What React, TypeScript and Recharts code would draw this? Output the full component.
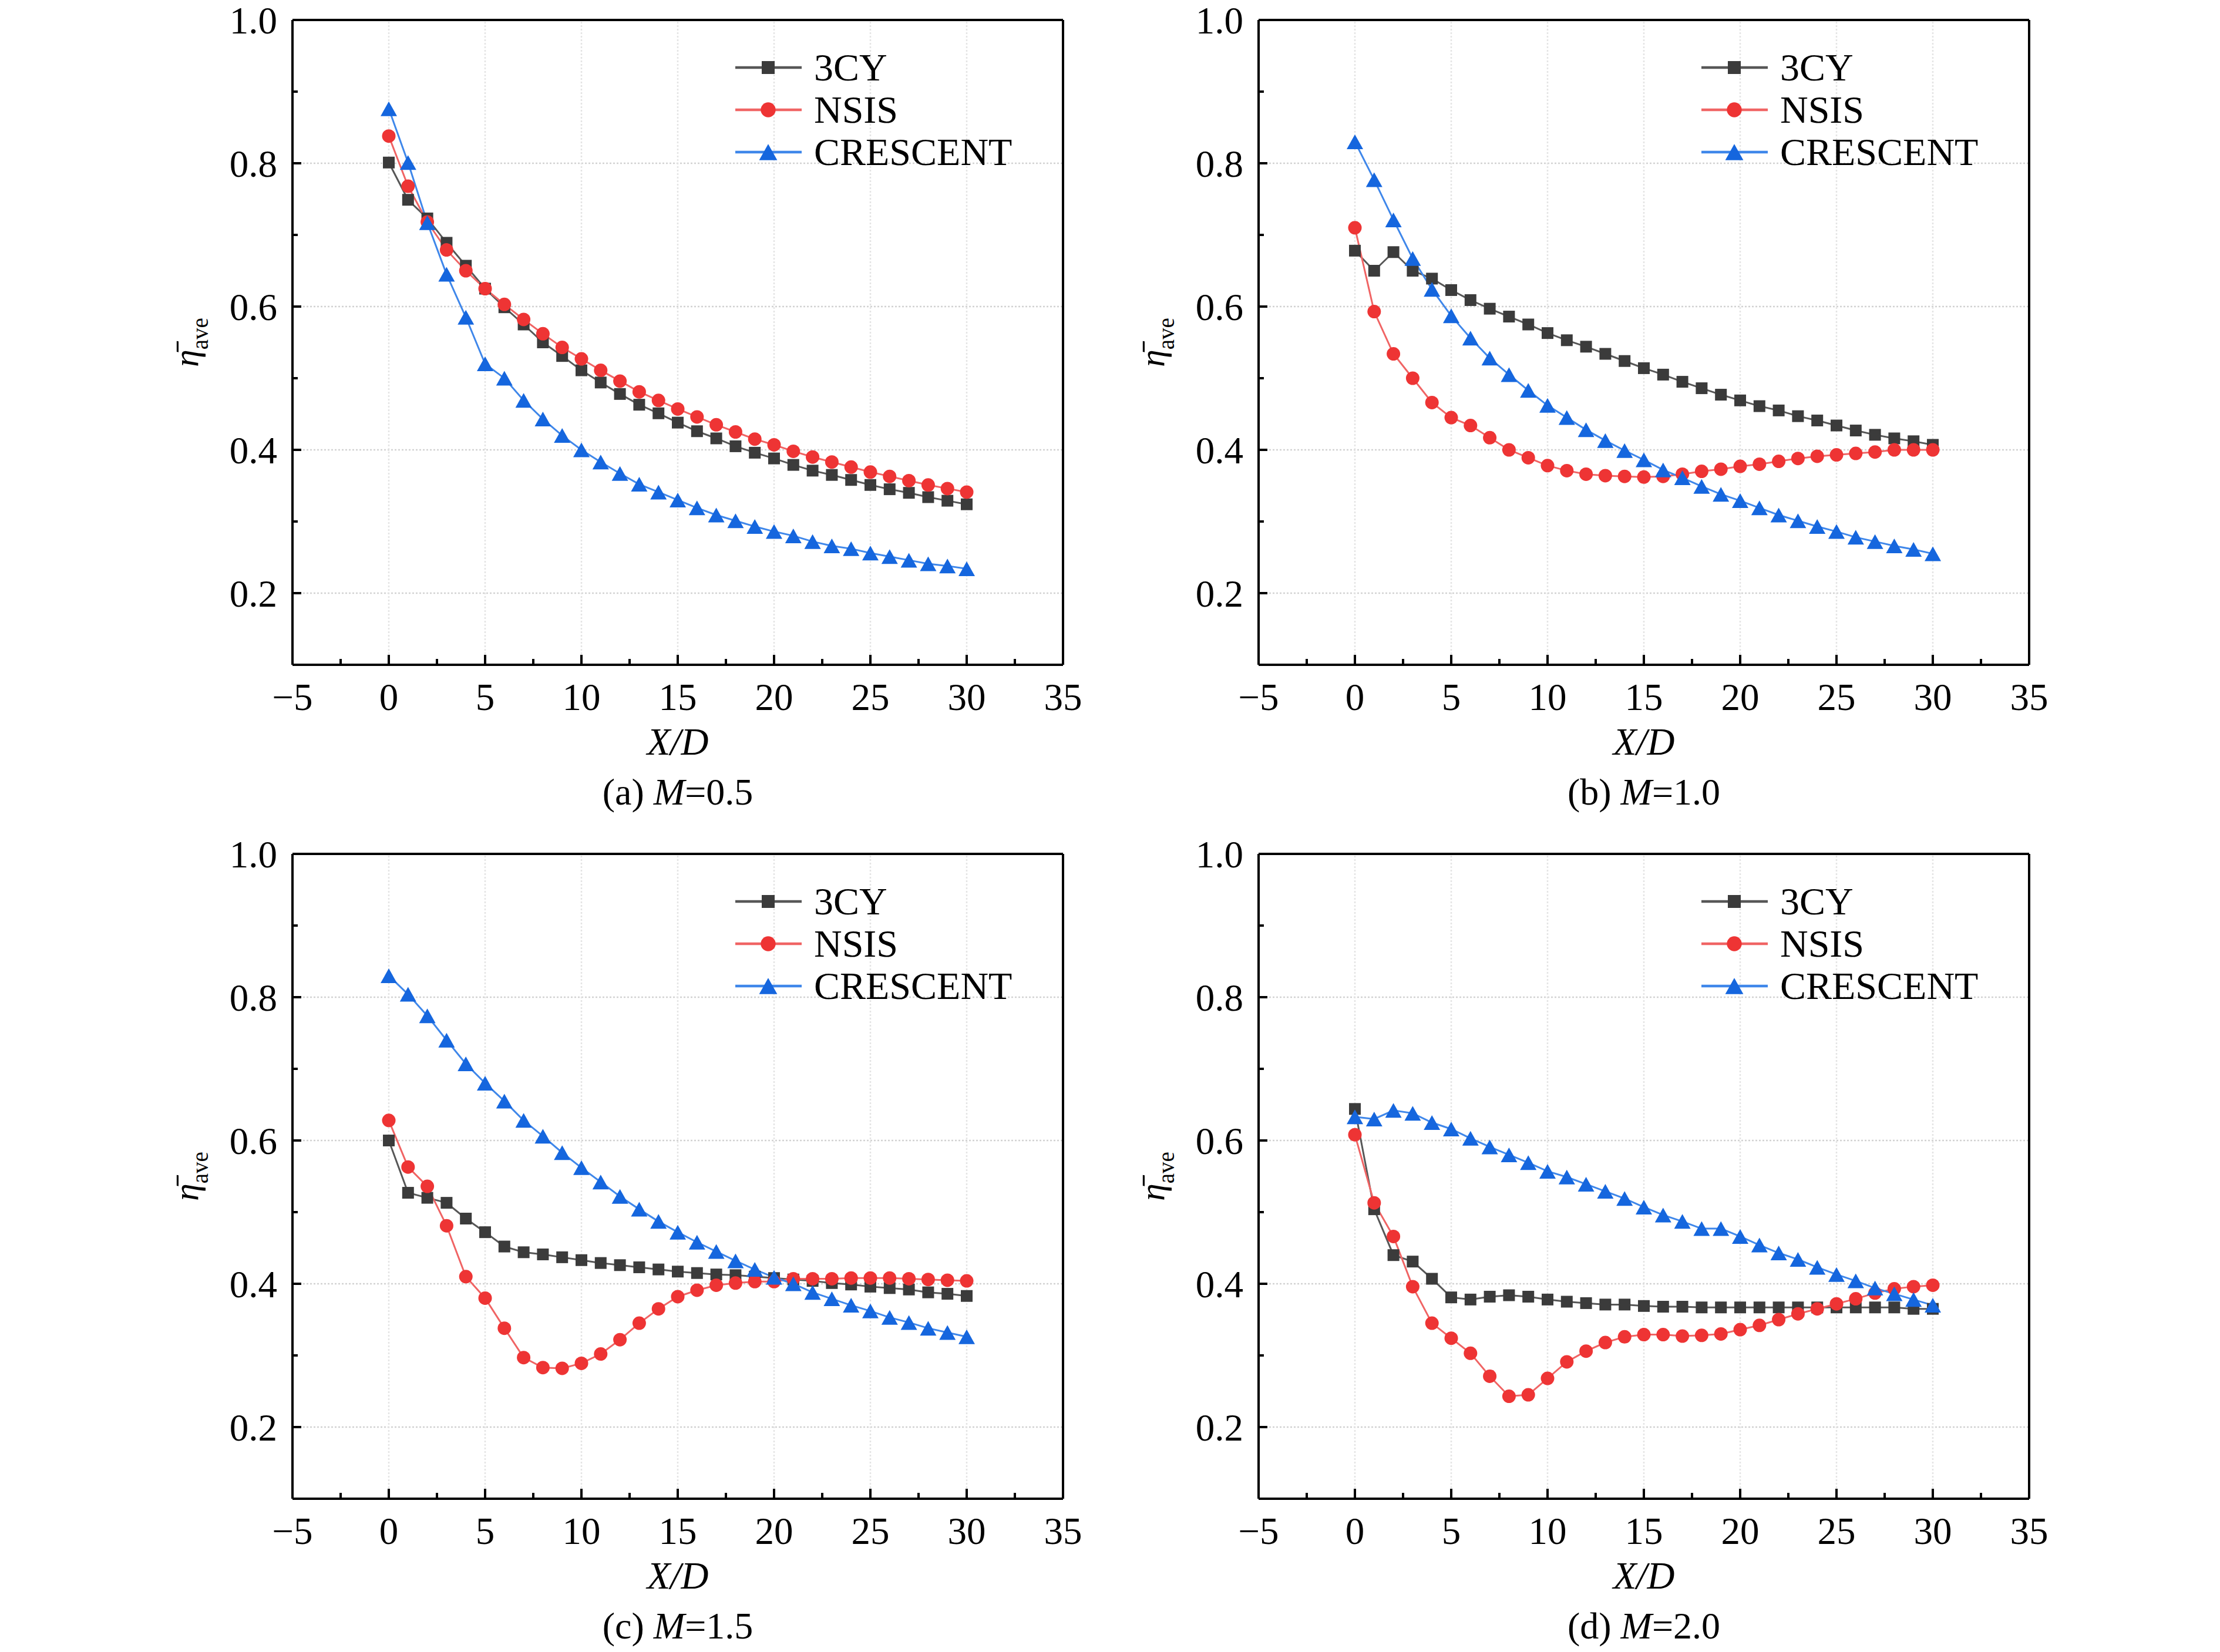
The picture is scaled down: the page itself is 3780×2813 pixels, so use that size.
import React from 'react';
import { LineChart, Line, XAxis, YAxis, ReferenceLine, Legend } from 'recharts';

// ---------- data ----------
const X_D = [0, 1, 2, 3, 4, 5, 6, 7, 8, 9, 10, 11, 12, 13, 14, 15, 16, 17, 18, 19, 20, 21, 22, 23, 24, 25, 26, 27, 28, 29, 30];

const X_TICKS = [-5, -2.5, 0, 2.5, 5, 7.5, 10, 12.5, 15, 17.5, 20, 22.5, 25, 27.5, 30, 32.5, 35];
const Y_TICKS = [0.1, 0.2, 0.3, 0.4, 0.5, 0.6, 0.7, 0.8, 0.9, 1.0];
const X_GRID = [0, 5, 10, 15, 20, 25, 30];
const Y_GRID = [0.2, 0.4, 0.6, 0.8];

const SERIES_NAMES = ['3CY', 'NSIS', 'CRESCENT'];
const CAPTION_LETTERS = ['(a)', '(b)', '(c)', '(d)'];
const BLOWING_RATIOS = ['0.5', '1.0', '1.5', '2.0'];

const CY3_M05 = [0.801, 0.749, 0.723, 0.689, 0.657, 0.625, 0.599, 0.575, 0.550, 0.531, 0.511, 0.494, 0.478, 0.463, 0.451, 0.438, 0.426, 0.416, 0.405, 0.396, 0.388, 0.379, 0.371, 0.365, 0.358, 0.351, 0.345, 0.340, 0.334, 0.329, 0.324];
const NSIS_M05 = [0.838, 0.768, 0.718, 0.679, 0.650, 0.625, 0.603, 0.582, 0.562, 0.543, 0.527, 0.511, 0.496, 0.481, 0.469, 0.457, 0.446, 0.435, 0.425, 0.415, 0.407, 0.398, 0.390, 0.383, 0.376, 0.369, 0.363, 0.357, 0.351, 0.346, 0.341];
const CRES_M05 = [0.876, 0.801, 0.717, 0.645, 0.585, 0.520, 0.500, 0.469, 0.443, 0.420, 0.400, 0.383, 0.367, 0.352, 0.341, 0.330, 0.319, 0.309, 0.301, 0.293, 0.286, 0.280, 0.272, 0.266, 0.262, 0.256, 0.251, 0.246, 0.241, 0.238, 0.234];

const CY3_M10 = [0.678, 0.650, 0.676, 0.650, 0.639, 0.623, 0.609, 0.597, 0.586, 0.575, 0.563, 0.553, 0.544, 0.534, 0.524, 0.514, 0.505, 0.495, 0.486, 0.477, 0.469, 0.461, 0.455, 0.447, 0.441, 0.434, 0.427, 0.421, 0.416, 0.412, 0.407];
const NSIS_M10 = [0.710, 0.593, 0.534, 0.500, 0.466, 0.445, 0.434, 0.417, 0.400, 0.389, 0.378, 0.371, 0.366, 0.364, 0.363, 0.362, 0.363, 0.366, 0.370, 0.373, 0.377, 0.380, 0.384, 0.388, 0.391, 0.393, 0.395, 0.397, 0.400, 0.400, 0.400];
const CRES_M10 = [0.830, 0.777, 0.721, 0.667, 0.624, 0.587, 0.556, 0.528, 0.505, 0.483, 0.462, 0.445, 0.428, 0.413, 0.399, 0.386, 0.372, 0.361, 0.349, 0.338, 0.329, 0.319, 0.309, 0.301, 0.293, 0.286, 0.278, 0.272, 0.266, 0.261, 0.255];

const CY3_M15 = [0.600, 0.527, 0.520, 0.513, 0.491, 0.472, 0.452, 0.444, 0.441, 0.437, 0.433, 0.429, 0.426, 0.423, 0.420, 0.417, 0.415, 0.413, 0.412, 0.410, 0.408, 0.406, 0.404, 0.401, 0.399, 0.396, 0.394, 0.392, 0.388, 0.386, 0.383];
const NSIS_M15 = [0.628, 0.563, 0.536, 0.481, 0.410, 0.380, 0.338, 0.297, 0.283, 0.282, 0.289, 0.302, 0.322, 0.345, 0.365, 0.382, 0.391, 0.398, 0.401, 0.403, 0.403, 0.407, 0.407, 0.407, 0.408, 0.408, 0.408, 0.407, 0.406, 0.405, 0.404];
const CRES_M15 = [0.830, 0.804, 0.774, 0.740, 0.707, 0.680, 0.655, 0.628, 0.606, 0.583, 0.562, 0.542, 0.522, 0.504, 0.487, 0.472, 0.458, 0.445, 0.432, 0.420, 0.409, 0.400, 0.388, 0.379, 0.370, 0.362, 0.353, 0.346, 0.338, 0.332, 0.326];

const CY3_M20 = [0.644, 0.504, 0.440, 0.431, 0.407, 0.381, 0.378, 0.382, 0.384, 0.382, 0.378, 0.375, 0.373, 0.371, 0.371, 0.369, 0.368, 0.368, 0.367, 0.367, 0.367, 0.367, 0.367, 0.367, 0.367, 0.367, 0.367, 0.367, 0.367, 0.365, 0.365];
const NSIS_M20 = [0.608, 0.513, 0.466, 0.396, 0.345, 0.324, 0.303, 0.271, 0.243, 0.245, 0.268, 0.291, 0.306, 0.318, 0.326, 0.329, 0.329, 0.327, 0.328, 0.330, 0.336, 0.342, 0.350, 0.358, 0.365, 0.372, 0.379, 0.387, 0.393, 0.396, 0.398];
const CRES_M20 = [0.633, 0.630, 0.642, 0.638, 0.625, 0.616, 0.603, 0.591, 0.580, 0.569, 0.557, 0.549, 0.539, 0.529, 0.519, 0.507, 0.496, 0.487, 0.477, 0.477, 0.466, 0.454, 0.443, 0.434, 0.423, 0.413, 0.404, 0.394, 0.386, 0.378, 0.370];

const PANEL_DATA = [
  [CY3_M05, NSIS_M05, CRES_M05],
  [CY3_M10, NSIS_M10, CRES_M10],
  [CY3_M15, NSIS_M15, CRES_M15],
  [CY3_M20, NSIS_M20, CRES_M20],
];

// ---------- styles / layout ----------
const FONT = '"Liberation Serif", "Times New Roman", Times, serif';
const KEYS = ['cy3', 'nsis', 'cres'];
const SERIES_STYLE = [
  { shape: 'square', line: '#575757', fill: '#3b3b3b' },
  { shape: 'circle', line: '#f06464', fill: '#ee3434' },
  { shape: 'triangle', line: '#3f87ea', fill: '#1566de' },
];

const CHART_W = 1890;
const CHART_H = 1420;
const Y_AXIS_W = 498;
const X_AXIS_H = 288;
const MARGIN = { top: 34, right: 80, bottom: 0, left: 0 };
const PANEL_POS = [
  { left: 0, top: 0 },
  { left: 1645, top: 0 },
  { left: 0, top: 1420 },
  { left: 1645, top: 1420 },
];
const Y_TICK_MARGIN = 26;
const X_TICK_MARGIN = 33;
const TICK_FS = 65;

// ---------- helpers ----------
function Marker({ shape, cx, cy, fill, scale = 1 }: any) {
  if (shape === 'square') {
    const s = 20 * scale;
    return <rect x={cx - s / 2} y={cy - s / 2} width={s} height={s} fill={fill} />;
  }
  if (shape === 'circle') {
    return <circle cx={cx} cy={cy} r={11.5 * scale} fill={fill} />;
  }
  const w = 28 * scale;
  const h = 25 * scale;
  return (
    <polygon
      points={`${cx},${cy - h / 2} ${cx - w / 2},${cy + h / 2} ${cx + w / 2},${cy + h / 2}`}
      fill={fill}
    />
  );
}

const makeDot = (shape: string, fill: string, name: string) => (props: any) => {
  const { cx, cy, index } = props;
  if (cx == null || cy == null || isNaN(cx) || isNaN(cy)) return <g key={`${name}-${index}`} />;
  return (
    <g key={`${name}-${index}`}>
      <Marker shape={shape} cx={cx} cy={cy} fill={fill} />
    </g>
  );
};

const YTick = (props: any) => {
  const { x, y, payload } = props;
  const v = payload.value;
  const major = Math.round(v * 10) % 2 === 0;
  const edge = x + Y_TICK_MARGIN;
  return (
    <g>
      <line x1={edge} x2={edge + (major ? 15 : 9)} y1={y} y2={y} stroke="#000" strokeWidth={4} />
      {major && (
        <text x={x} y={y} dy="0.35em" textAnchor="end" fontFamily={FONT} fontSize={TICK_FS} fill="#000">
          {v.toFixed(1)}
        </text>
      )}
    </g>
  );
};

const XTick = (props: any) => {
  const { x, y, payload } = props;
  const v = payload.value;
  const major = Math.abs(v % 5) < 1e-9;
  const edge = y - X_TICK_MARGIN;
  const label = v < 0 ? `\u2212${Math.abs(v)}` : String(v);
  return (
    <g>
      <line x1={x} x2={x} y1={edge} y2={edge - (major ? 17 : 10)} stroke="#000" strokeWidth={4} />
      {major && (
        <text x={x} y={y + 44} textAnchor="middle" fontFamily={FONT} fontSize={TICK_FS} fill="#000">
          {label}
        </text>
      )}
    </g>
  );
};

const YLabel = (props: any) => {
  const vb = props.viewBox || { x: 0, y: MARGIN.top, width: Y_AXIS_W, height: CHART_H - MARGIN.top - X_AXIS_H };
  const cx = vb.x + vb.width - 161;
  const cy = vb.y + vb.height / 2;
  return (
    <text
      x={cx}
      y={cy}
      textAnchor="middle"
      transform={`rotate(-90, ${cx}, ${cy})`}
      fontFamily={FONT}
      fill="#000"
    >
      <tspan fontSize={60} fontStyle="italic">{'\u03B7\u0304'}</tspan>
      <tspan fontSize={39} dy={17}>ave</tspan>
    </text>
  );
};

const makeXLabel = (panelIndex: number) => (props: any) => {
  const vb = props.viewBox || { x: Y_AXIS_W, y: CHART_H - X_AXIS_H, width: CHART_W - Y_AXIS_W - MARGIN.right, height: X_AXIS_H };
  const cx = vb.x + vb.width / 2;
  const top = vb.y;
  return (
    <g>
      <text x={cx} y={top + 153} textAnchor="middle" fontFamily={FONT} fontSize={65} fontStyle="italic" fill="#000">
        X/D
      </text>
      <text x={cx} y={top + 238} textAnchor="middle" fontFamily={FONT} fontSize={64} fill="#000">
        {CAPTION_LETTERS[panelIndex]} <tspan fontStyle="italic">M</tspan>={BLOWING_RATIOS[panelIndex]}
      </text>
    </g>
  );
};

const renderLegend = (props: any) => {
  const payload: any[] = props && props.payload ? props.payload : [];
  return (
    <svg width={600} height={230} style={{ display: 'block', overflow: 'visible' }}>
      {KEYS.map((key, i) => {
        const st = SERIES_STYLE[i];
        const cy = 36 + i * 72;
        const entry = payload.find((p) => p && p.dataKey === key);
        const label = entry && entry.value ? entry.value : SERIES_NAMES[i];
        return (
          <g key={key}>
            <line x1={0} x2={113} y1={cy} y2={cy} stroke={st.line} strokeWidth={4.5} />
            <Marker shape={st.shape} cx={56} cy={cy} fill={st.fill} scale={1.1} />
            <text x={134} y={cy + 22} fontFamily={FONT} fontSize={66} fill="#000">
              {label}
            </text>
          </g>
        );
      })}
    </svg>
  );
};

function Panel({ index }: { index: number }) {
  const series = PANEL_DATA[index];
  const rows = X_D.map((x, i) => ({ x, cy3: series[0][i], nsis: series[1][i], cres: series[2][i] }));
  const pos = PANEL_POS[index];
  return (
    <div style={{ position: 'absolute', left: pos.left, top: pos.top, width: CHART_W, height: CHART_H }}>
      <LineChart width={CHART_W} height={CHART_H} data={rows} margin={MARGIN}>
        <XAxis
          dataKey="x"
          type="number"
          domain={[-5, 35]}
          allowDataOverflow
          ticks={X_TICKS}
          interval={0}
          height={X_AXIS_H}
          tickSize={0}
          tickLine={false}
          tickMargin={X_TICK_MARGIN}
          tick={<XTick />}
          axisLine={{ stroke: '#000', strokeWidth: 4 }}
          label={{ content: makeXLabel(index) }}
        />
        <YAxis
          type="number"
          domain={[0.1, 1.0]}
          allowDataOverflow
          ticks={Y_TICKS}
          interval={0}
          width={Y_AXIS_W}
          tickSize={0}
          tickLine={false}
          tickMargin={Y_TICK_MARGIN}
          tick={<YTick />}
          axisLine={{ stroke: '#000', strokeWidth: 4 }}
          label={{ content: YLabel }}
        />
        {Y_GRID.map((v) => (
          <ReferenceLine key={`gy${v}`} y={v} stroke="#d2d2d2" strokeWidth={2.5} strokeDasharray="3 3" />
        ))}
        {X_GRID.map((v) => (
          <ReferenceLine key={`gx${v}`} x={v} stroke="#e4e4e4" strokeWidth={2.5} strokeDasharray="3 3" />
        ))}
        <ReferenceLine y={1.0} stroke="#000" strokeWidth={4} />
        <ReferenceLine x={35} stroke="#000" strokeWidth={4} />
        {KEYS.map((k, i) => (
          <Line
            key={k}
            type="linear"
            dataKey={k}
            name={SERIES_NAMES[i]}
            stroke={SERIES_STYLE[i].line}
            strokeWidth={3}
            dot={makeDot(SERIES_STYLE[i].shape, SERIES_STYLE[i].fill, `${k}${index}`)}
            activeDot={false}
            isAnimationActive={false}
          />
        ))}
        <Legend
          layout="vertical"
          align="center"
          verticalAlign="middle"
          content={renderLegend}
          wrapperStyle={{ position: 'absolute', left: 1252, top: 79, width: 600, height: 230 }}
        />
      </LineChart>
    </div>
  );
}

export default function App() {
  return (
    <div
      style={{
        position: 'absolute',
        left: 0,
        top: 0,
        width: 3780,
        height: 2813,
        background: '#ffffff',
        overflow: 'hidden',
      }}
    >
      {[0, 1, 2, 3].map((i) => (
        <Panel key={i} index={i} />
      ))}
    </div>
  );
}
